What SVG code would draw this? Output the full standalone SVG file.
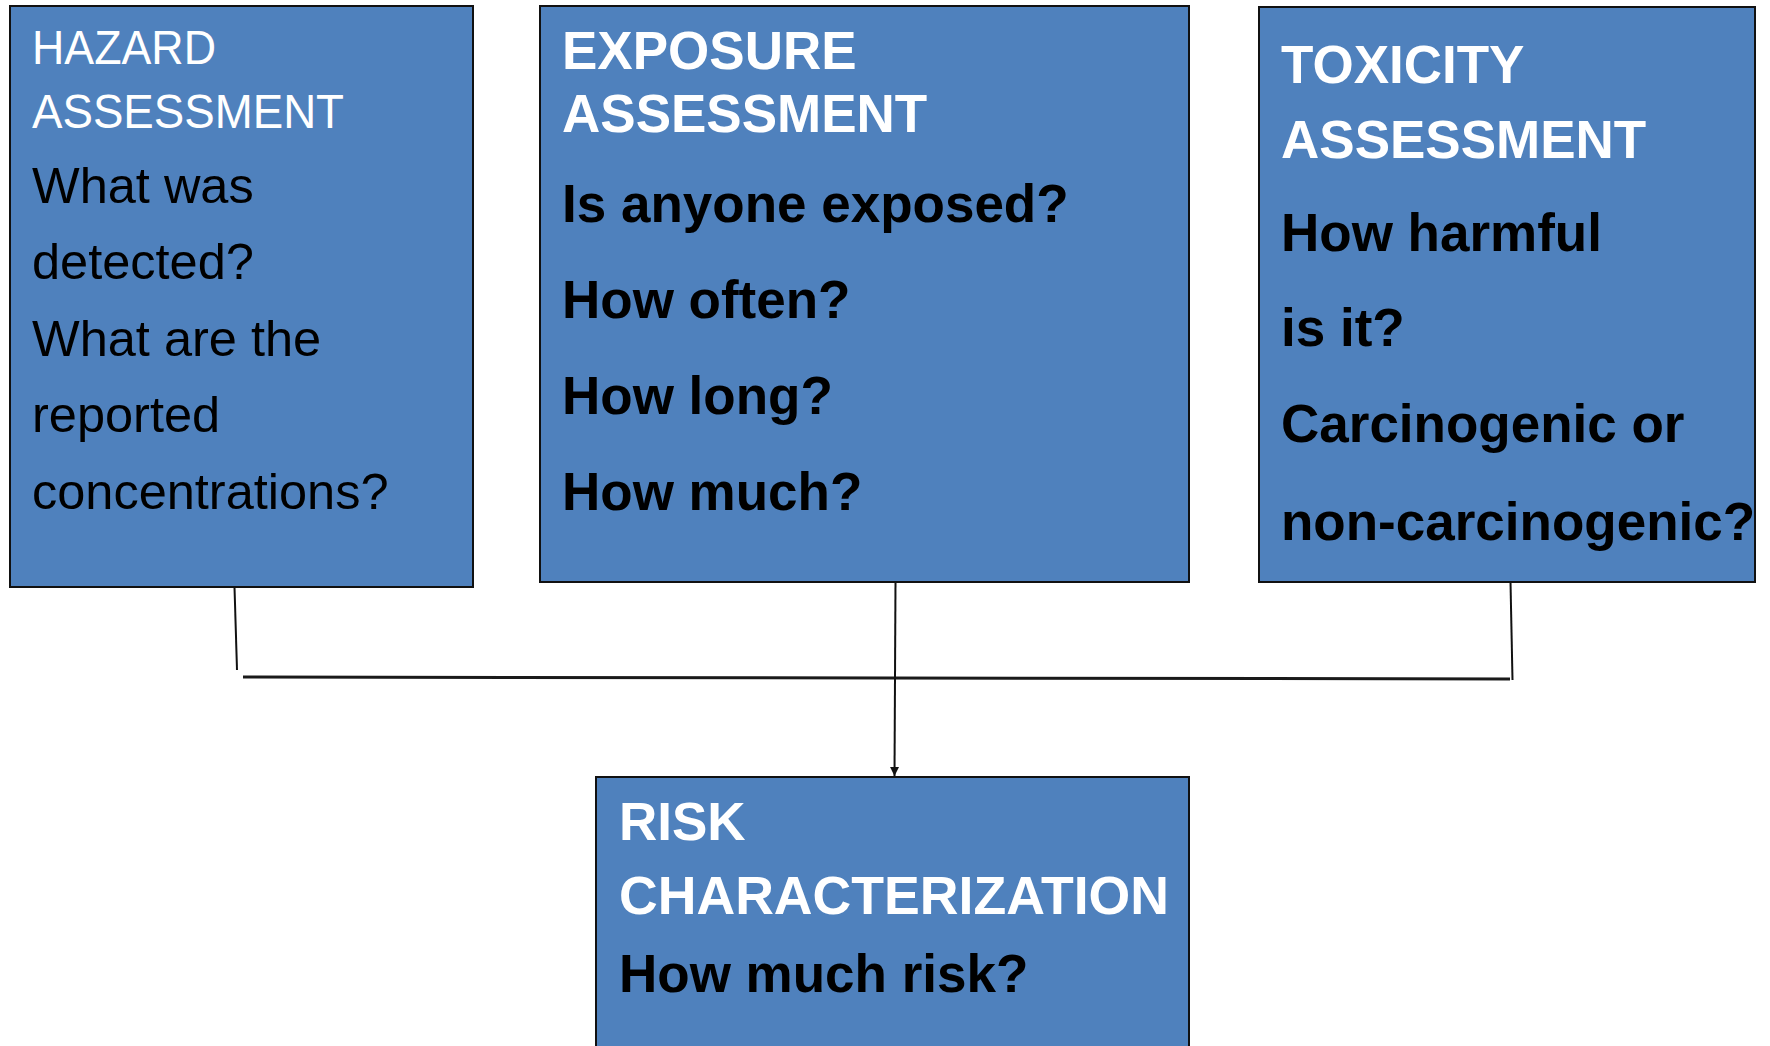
<svg xmlns="http://www.w3.org/2000/svg" width="1770" height="1046" viewBox="0 0 1770 1046">
<defs>
<style>
.box{fill:#4F81BD;stroke:#111;stroke-width:2}
.t{font-family:"Liberation Sans",Arial,sans-serif}
.title{fill:#fff;font-weight:bold;font-size:53px}
.body{fill:#000;font-weight:bold;font-size:53px}
.htitle{fill:#fff;font-size:49px}
.hbody{fill:#000;font-size:50.5px}
.conn{fill:none;stroke:#111;stroke-width:2}
.bar{fill:none;stroke:#1a1a1a;stroke-width:3}
</style>
<marker id="arr" viewBox="0 0 10 10" refX="10" refY="5" markerWidth="9" markerHeight="9" markerUnits="userSpaceOnUse" orient="auto">
<path d="M0,0 L10,5 L0,10 z" fill="#111"/>
</marker>
</defs>
<rect width="1770" height="1046" fill="#fff"/>
<g id="connectors">
<path class="conn" d="M234.5,587 L237,670"/>
<path class="conn" d="M1510.5,582 L1512.5,680"/>
<path class="bar" d="M243,677 L1510,679"/>
<path class="conn" d="M895.5,582 L894.5,776" marker-end="url(#arr)"/>
</g>
<g id="hazard">
<rect class="box" x="10" y="6" width="463" height="581"/>
<text class="t htitle" x="32" y="64" textLength="184" lengthAdjust="spacingAndGlyphs">HAZARD</text>
<text class="t htitle" x="32" y="128" textLength="312" lengthAdjust="spacingAndGlyphs">ASSESSMENT</text>
<text class="t hbody" x="32" y="203">What was</text>
<text class="t hbody" x="32" y="279">detected?</text>
<text class="t hbody" x="32" y="356">What are the</text>
<text class="t hbody" x="32" y="432">reported</text>
<text class="t hbody" x="32" y="509">concentrations?</text>
</g>
<g id="exposure">
<rect class="box" x="540" y="6" width="649" height="576"/>
<text class="t title" x="562" y="69">EXPOSURE</text>
<text class="t title" x="562" y="132">ASSESSMENT</text>
<text class="t body" x="562" y="222">Is anyone exposed?</text>
<text class="t body" x="562" y="318">How often?</text>
<text class="t body" x="562" y="414">How long?</text>
<text class="t body" x="562" y="510">How much?</text>
</g>
<g id="toxicity">
<rect class="box" x="1259" y="7" width="496" height="575"/>
<text class="t title" x="1281" y="83">TOXICITY</text>
<text class="t title" x="1281" y="158">ASSESSMENT</text>
<text class="t body" x="1281" y="251">How harmful</text>
<text class="t body" x="1281" y="346">is it?</text>
<text class="t body" x="1281" y="442">Carcinogenic or</text>
<text class="t body" x="1281" y="540">non-carcinogenic?</text>
</g>
<g id="risk">
<rect class="box" x="596" y="777" width="593" height="290"/>
<text class="t title" x="619" y="840">RISK</text>
<text class="t title" x="619" y="914" textLength="550" lengthAdjust="spacingAndGlyphs">CHARACTERIZATION</text>
<text class="t body" x="619" y="992">How much risk?</text>
</g>
</svg>
